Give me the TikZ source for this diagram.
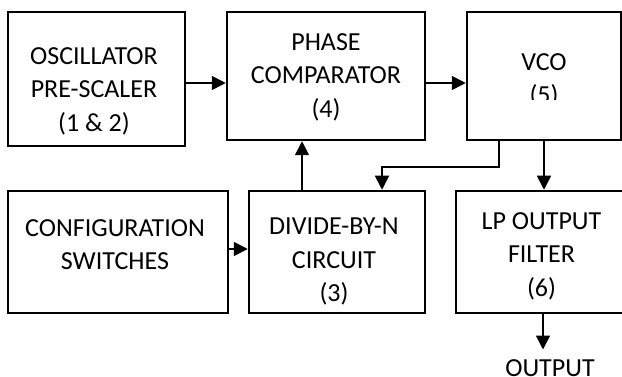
\documentclass[tikz,border=0pt]{standalone}
\usepackage{fontspec}
\setmainfont{Carlito}
\usetikzlibrary{arrows.meta}
\begin{document}
\begin{tikzpicture}[x=1pt,y=-1pt,
  box/.style={draw, line width=2.5pt, rectangle, inner sep=0pt, minimum height=122pt},
  lbl/.style={anchor=north, inner sep=0pt, align=center, font=\fontsize{26}{33.5}\selectfont},
  arr/.style={line width=1.6pt, -{Triangle[length=14pt,width=14pt]}}]
\useasboundingbox (0,0) rectangle (622,377);
% boxes
\node[box, minimum width=177pt, minimum height=134pt] (b1) at (96.5,79) {};
\node[box, minimum width=198pt, minimum height=128pt] (b2) at (326,76) {};
\node[box, minimum width=154pt, minimum height=128pt] (vco) at (544,76) {};
\node[box, minimum width=220pt] (cfg) at (118,252) {};
\node[box, minimum width=176pt] (div) at (337,252) {};
\node[box, minimum width=174pt] (lp) at (543,252) {};
% labels
\node[lbl] (t1) at (94,47) {OSCILLATOR\\PRE-SCALER\\(1 \& 2)};
\node[lbl] (t2) at (326,33) {PHASE\\COMPARATOR\\(4)};
\begin{scope}
  \clip (467,12) rectangle (621,100);
  \node[lbl] (t3) at (544,53) {VCO\\(5)};
\end{scope}
\node[lbl] (t4) at (115,219) {CONFIGURATION\\SWITCHES};
\node[lbl] (t5) at (334,218) {DIVIDE-BY-N\\CIRCUIT\\(3)};
\node[lbl] (t6) at (541.5,212) {LP OUTPUT\\FILTER\\(6)};
\node[lbl] (out) at (550,359.5) {OUTPUT};
% connectors
\draw[arr] ([yshift=-4pt]b1.east) -- ([yshift=-4pt]b1.east -| b2.west);
\draw[arr] ([yshift=-7pt]b2.east) -- ([yshift=-7pt]b2.east -| vco.west);
\draw[arr] ([xshift=-45pt]vco.south) -- ++(0,26) -| ([xshift=45pt]div.north);
\draw[arr] (vco.south) -- (vco.south |- lp.north);
\draw[arr] ([yshift=3pt]cfg.east) -- ([yshift=3pt]cfg.east -| div.west);
\draw[arr] ([xshift=-35pt]div.north) -- ([xshift=-35pt]div.north |- b2.south);
\draw[arr] (lp.south) -- ([yshift=10pt]lp.south |- out.north);
\end{tikzpicture}
\end{document}
